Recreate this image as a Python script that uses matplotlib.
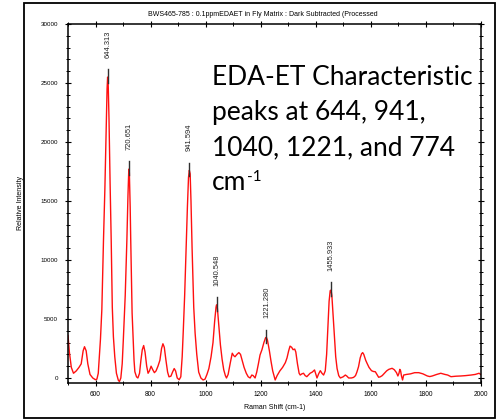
import matplotlib
matplotlib.use("Agg")
import matplotlib.pyplot as plt
from matplotlib.ticker import MultipleLocator
from matplotlib.patches import Rectangle

# ---- data ----
shift_cm = [500, 505, 512, 520, 530, 540, 548, 555, 560, 566, 572, 580, 590, 600, 605, 610,
            614, 618, 623, 629, 634, 639, 642, 644, 646, 649, 653, 657, 661, 665, 670, 676,
            683, 687, 692, 697, 701, 708, 714, 718, 721, 723, 726, 728, 733, 737, 740, 743,
            749, 754, 760, 765, 770, 775, 780, 786, 791, 796, 802, 808, 814, 820, 827, 834,
            840, 845, 850, 856, 862, 867, 874, 880, 886, 891, 897, 904, 910, 915, 919, 924,
            929, 934, 938, 941, 944, 947, 951, 957, 962, 968, 975, 983, 991, 998, 1005, 1012,
            1020, 1027, 1033, 1038, 1040, 1043, 1048, 1054, 1060, 1066, 1072, 1076, 1082, 1090,
            1097, 1102, 1107, 1114, 1121, 1127, 1133, 1140, 1148, 1155, 1162, 1168, 1173, 1180,
            1186, 1192, 1198, 1205, 1212, 1218, 1221, 1225, 1232, 1238, 1244, 1250, 1253, 1260,
            1270, 1280, 1290, 1296, 1302, 1307, 1313, 1318, 1324, 1328, 1334, 1340, 1344, 1350,
            1356, 1362, 1368, 1374, 1380, 1388, 1396, 1401, 1405, 1411, 1417, 1423, 1429, 1435,
            1440, 1445, 1449, 1453, 1456, 1459, 1463, 1468, 1473, 1478, 1484, 1490, 1500, 1508,
            1514, 1520, 1530, 1538, 1545, 1550, 1556, 1562, 1567, 1571, 1575, 1582, 1587, 1594,
            1603, 1610, 1617, 1623, 1629, 1635, 1642, 1650, 1658, 1666, 1678, 1686, 1694, 1699,
            1703, 1706, 1709, 1712, 1716, 1720, 1730, 1745, 1760, 1775, 1790, 1806, 1815, 1824,
            1840, 1855, 1870, 1880, 1892, 1910, 1928, 1945, 1965, 1980, 1994, 2000]
intensity = [3600, 2200, 900, 400, 600, 900, 1200, 2300, 2650, 2300, 1200, 300, 0, -150, -100, 400,
             1800, 3300, 5800, 11700, 16000, 21500, 24500, 25500, 25000, 22000, 16500, 11700, 6000, 3500, 1800, 400,
             -200, -300, 0, 1200, 3200, 7000, 11700, 15500, 17700, 17400, 14500, 11700, 5500, 3200, 1500, 530,
             100, 0, 400, 1500, 2400, 2750, 2200, 1000, 400, 600, 1000, 700, 450, 600, 1000, 1500,
             2500, 2900, 2600, 1500, 500, 100, 150, 500, 800, 600, 0, -150, 100, 1800, 4000, 7000,
             10800, 14500, 17000, 17600, 17300, 15000, 11000, 6000, 3800, 2000, 500, 0, -170, -100, 300, 800,
             1800, 3000, 4800, 6000, 6200, 5900, 4500, 2800, 1600, 700, 200, 0, 300, 1300,
             2100, 1900, 1800, 2000, 2150, 2000, 1500, 900, 400, 100, 0, 250, 200, 0,
             500, 1200, 1950, 2400, 3000, 3400, 3450, 3200, 2300, 1400, 600, 100, -170, 200,
             600, 900, 1300, 1700, 2300, 2700, 2600, 2400, 2450, 2200, 1200, 400, 250, 350,
             400, 200, 110, 250, 400, 500, 680, 300, 0, 350, 620, 400, 250, 600,
             2000, 4500, 6500, 7400, 7450, 7000, 5500, 3500, 1800, 800, 200, 0, 100, 250,
             150, 0, 0, 50, 200, 500, 960, 1700, 2050, 2150, 2000, 1500, 1240, 900,
             620, 550, 530, 300, 60, 100, 200, 400, 600, 730, 820, 700, 450, 170,
             400, 730, 600, 170, -170, 250, 300, 350, 450, 450, 350, 170, 120, 170,
             300, 400, 300, 250, 110, 150, 170, 200, 250, 300, 400, 300]

peak_labels = ["644.313", "720.651", "941.594", "1040.548", "1221.280", "1455.933"]
peak_x = [644.313, 720.651, 941.594, 1040.548, 1221.280, 1455.933]
peak_y = [25500, 17700, 17600, 6200, 3450, 7450]

title = "BWS465-785 : 0.1ppmEDAET in Fly Matrix : Dark Subtracted (Processed"
note_lines = ["EDA-ET Characteristic", "peaks at 644, 941,", "1040, 1221, and 774", "cm"]
note_sup = "-1"

plt.rcParams['font.family'] = ['Liberation Sans', 'DejaVu Sans']

W, H = 503, 419
fig = plt.figure(figsize=(W / 100, H / 100), dpi=100)
fig.patch.set_facecolor('white')

# outer frame
fig.patches.append(Rectangle((24 / W, 1.5 / H), (495 - 24) / W, (417.5 - 3) / H,
                             transform=fig.transFigure, fill=False, edgecolor='black',
                             linewidth=1.3))

ax = fig.add_axes([68 / W, 1 - 382.7 / H, (480.7 - 68) / W, (382.7 - 24) / H])
ax.plot(shift_cm, intensity, color='#ff1010', linewidth=1.0)
ax.set_xlim(500, 2000)
ax.set_ylim(-400, 30000)

for lab, px, py in zip(peak_labels, peak_x, peak_y):
    ax.plot([px, px], [py - 500, py + 650], color='#303030', linewidth=1.0, zorder=3)
    ax.text(px, py + 1600, lab, rotation=90, ha='center', va='bottom', fontsize=5.4,
            color='#222222')

ax.xaxis.set_major_locator(MultipleLocator(200))
ax.xaxis.set_minor_locator(MultipleLocator(100))
ax.yaxis.set_major_locator(MultipleLocator(5000))
ax.yaxis.set_minor_locator(MultipleLocator(1000))
ax.tick_params(axis='both', which='major', direction='inout', length=4.5, width=0.8,
               top=True, right=True, pad=3)
ax.tick_params(axis='both', which='minor', direction='inout', length=3, width=0.7,
               top=True, right=True)
ax.tick_params(axis='x', labelsize=4.7, pad=4)
ax.tick_params(axis='y', labelsize=4.5, pad=5)
for s in ax.spines.values():
    s.set_linewidth(1.1)

ax.set_xlabel("Raman Shift (cm-1)", fontsize=5.0, labelpad=4)
ax.set_ylabel("Relative Intensity", fontsize=5.0, labelpad=12)
fig.text(263 / W, 1 - 14.5 / H, title, ha='center', va='center', fontsize=5.0)

baselines = [85, 120, 155, 190]
texts = []
for line, b in zip(note_lines, baselines):
    t = fig.text(212 / W, 1 - b / H, line, ha='left', va='baseline', fontsize=19,
                 family=['Lato', 'DejaVu Sans'], color='black')
    texts.append(t)

renderer = fig.canvas.get_renderer()
bb = texts[-1].get_window_extent(renderer)
fig.text(bb.x1 / W + 0.5 / W, 1 - 181 / H, note_sup, ha='left', va='baseline', fontsize=11,
         family=['Lato', 'DejaVu Sans'], color='black')

fig.savefig("out.png", dpi=100)
